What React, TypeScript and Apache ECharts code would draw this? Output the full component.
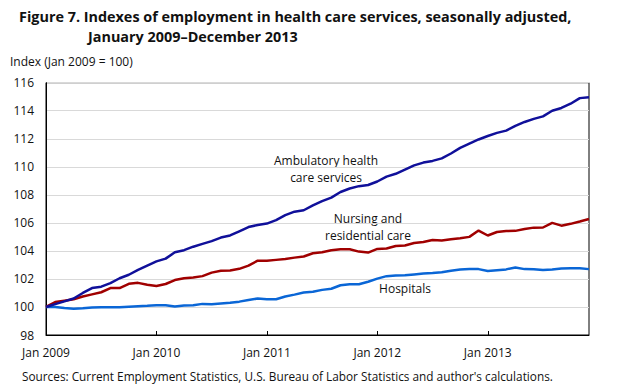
import React, { useEffect, useRef } from "react";
import * as echarts from "echarts";

const years = [2009, 2010, 2011, 2012, 2013];
const monthNames = ["Jan", "Feb", "Mar", "Apr", "May", "Jun", "Jul", "Aug", "Sep", "Oct", "Nov", "Dec"];
const categories: string[] = [];
years.forEach((y) => monthNames.forEach((m) => categories.push(`${m} ${y}`)));

const ambulatory = [
  100.0, 100.2, 100.4, 100.6, 101.0, 101.35, 101.45, 101.7, 102.05, 102.3, 102.65, 102.95,
  103.25, 103.45, 103.9, 104.05, 104.3, 104.5, 104.7, 104.95, 105.1, 105.4, 105.7, 105.85,
  105.95, 106.2, 106.55, 106.8, 106.9, 107.25, 107.55, 107.8, 108.2, 108.45, 108.62, 108.7,
  108.95, 109.3, 109.5, 109.8, 110.1, 110.3, 110.42, 110.6, 110.95, 111.35, 111.65, 111.95,
  112.2, 112.42, 112.58, 112.92, 113.2, 113.42, 113.6, 114.0, 114.2, 114.5, 114.9, 114.97,
];
const nursing = [
  100.0, 100.35, 100.45, 100.55, 100.75, 100.9, 101.05, 101.35, 101.35, 101.65, 101.72, 101.58,
  101.5, 101.64, 101.92, 102.05, 102.1, 102.2, 102.45, 102.58, 102.6, 102.72, 102.95, 103.3,
  103.3, 103.36, 103.42, 103.52, 103.6, 103.83, 103.9, 104.05, 104.12, 104.12, 103.95, 103.88,
  104.14, 104.17, 104.35, 104.38, 104.56, 104.63, 104.78, 104.74, 104.83, 104.9, 105.0, 105.45,
  105.1, 105.35, 105.42, 105.43, 105.56, 105.66, 105.67, 106.0, 105.8, 105.93, 106.1, 106.28,
];
const hospitals = [
  100.0, 100.0, 99.92, 99.88, 99.9, 99.96, 99.98, 99.98, 99.98, 100.02, 100.05, 100.08,
  100.12, 100.12, 100.03, 100.1, 100.12, 100.22, 100.2, 100.25, 100.3, 100.38, 100.5, 100.6,
  100.55, 100.55, 100.75, 100.88, 101.03, 101.08, 101.22, 101.3, 101.55, 101.62, 101.62, 101.8,
  102.02, 102.2, 102.25, 102.26, 102.32, 102.38, 102.42, 102.47, 102.58, 102.68, 102.7, 102.7,
  102.56, 102.62, 102.68, 102.82, 102.7, 102.69, 102.63, 102.68, 102.75, 102.76, 102.76, 102.7,
];

const titleLine1 = "Figure 7. Indexes of employment in health care services, seasonally adjusted,";
const titleLine2 = "January 2009–December 2013";
const yAxisTitle = "Index (Jan 2009 = 100)";
const sourceNote = "Sources: Current Employment Statistics, U.S. Bureau of Labor Statistics and author's calculations.";

const FONT = "'Open Sans', sans-serif";

export default function App() {
  const ref = useRef<HTMLDivElement>(null);
  useEffect(() => {
    if (!ref.current) return;
    const chart = echarts.init(ref.current, undefined, { renderer: "svg" });
    const mk = (name: string, data: number[], color: string) => ({
      name,
      type: "line",
      data,
      symbol: "none",
      lineStyle: { color, width: 2.5 },
      itemStyle: { color },
    });
    chart.setOption({
      animation: false,
      backgroundColor: "#fff",
      grid: { left: 46, right: 36, top: 82.7, bottom: 55, show: true, borderColor: "#000", borderWidth: 1, containLabel: false },
      xAxis: {
        type: "category",
        data: categories,
        boundaryGap: false,
        axisLine: { lineStyle: { color: "#000", width: 1 } },
        axisTick: { inside: true, length: 4, interval: (i: number) => i % 12 === 0, lineStyle: { color: "#000" } },
        axisLabel: {
          interval: (i: number) => i % 12 === 0,
          color: "#111",
          fontFamily: FONT,
          fontSize: 12,
          margin: 11,
        },
        splitLine: { show: false },
      },
      yAxis: {
        type: "value",
        min: 98,
        max: 116,
        interval: 2,
        axisLine: { show: true, lineStyle: { color: "#000", width: 1 } },
        axisTick: { show: false },
        axisLabel: { color: "#111", fontFamily: FONT, fontSize: 12, margin: 12 },
        splitLine: { lineStyle: { color: "#d9d9d9", width: 1 } },
      },
      series: [
        mk("Hospitals", hospitals, "#0a66d6"),
        mk("Nursing and residential care", nursing, "#a00000"),
        mk("Ambulatory health care services", ambulatory, "#10109a"),
      ],
      graphic: [
        { type: "text", left: 19, top: 9, style: { text: titleLine1, fontFamily: FONT, fontWeight: "bold", fontSize: 14.4, fill: "#111" } },
        { type: "text", left: 88, top: 29, style: { text: titleLine2, fontFamily: FONT, fontWeight: "bold", fontSize: 14.4, fill: "#111" } },
        { type: "text", left: 10, top: 55, style: { text: yAxisTitle, fontFamily: FONT, fontSize: 12, fill: "#111" } },
        { type: "text", left: 22, top: 370, style: { text: sourceNote, fontFamily: FONT, fontSize: 11.8, fill: "#111" } },
        { type: "text", x: 326, y: 168.5, style: { text: "Ambulatory health\ncare services", align: "center", verticalAlign: "middle", lineHeight: 17, fontFamily: FONT, fontSize: 12, fill: "#111" } },
        { type: "text", x: 368, y: 226.7, style: { text: "Nursing and\nresidential care", align: "center", verticalAlign: "middle", lineHeight: 17, fontFamily: FONT, fontSize: 12, fill: "#111" } },
        { type: "text", x: 405, y: 288.3, style: { text: "Hospitals", align: "center", verticalAlign: "middle", fontFamily: FONT, fontSize: 12, fill: "#111" } },
      ],
    });
    return () => chart.dispose();
  }, []);
  return <div ref={ref} style={{ width: 625, height: 390, position: "absolute", left: 0, top: 0 }} />;
}
